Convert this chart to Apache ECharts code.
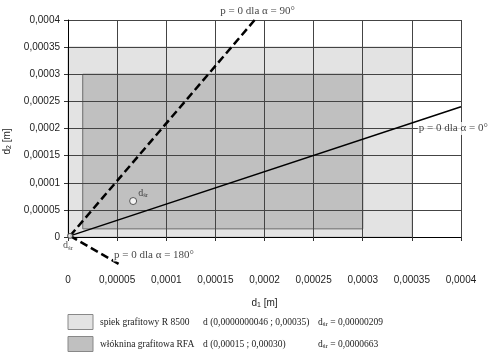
<!DOCTYPE html>
<html>
<head>
<meta charset="utf-8">
<script src="https://cdn.jsdelivr.net/npm/echarts@6/dist/echarts.min.js"></script>
<style>html,body{margin:0;padding:0;background:#fff}#c{width:489px;height:358px}</style>
</head>
<body>
<div id="c"></div>
<script>
// ---- data ----
const axisMin = 0, axisMax = 0.0004, axisStep = 0.00005;
// rectangles: [x0, y0, x1, y1]
const rectSpiek = [0.0000000046, 0.0000000046, 0.00035, 0.00035];
const rectWloknina = [0.000015, 0.000015, 0.0003, 0.0003];
// p = 0 lines
const line0 = [[0.00000209, 0.00000209], [0.0004, 0.00024]];
const line90 = [[0.00000209, 0.00000209], [0.00019, 0.0004]];
const line180 = [[0.00000209, 0.00000209], [0.000054, -0.000052]];
// mean points
const dsrPoints = [[0.00000209, 0.00000209], [0.0000663, 0.0000663]];
// annotation text anchors
const annotTexts = ['p = 0 dla α = 0°', 'p = 0 dla α = 90°', 'p = 0 dla α = 180°'];
const annotPos = [[0.000356, 0.0002], [0.000193, 0.000417], [0.0000458, -0.0000332]];
// legend
const legendNames = ['spiek grafitowy R 8500', 'włóknina grafitowa RFA'];
const legendRanges = ['d (0,0000000046 ; 0,00035)', 'd (0,00015 ; 0,00030)'];
const legendDsr = ['0,00000209', '0,0000663'];
const fillColors = ['#e3e3e3', '#c0c0c0'];
const strokeColors = ['#bdbdbd', '#6a6a6a'];

const fmt = v => Number(v.toFixed(6)).toString().replace('.', ',');
const serif = '"Liberation Serif", "Times New Roman", serif';
const sans = '"Liberation Sans", Arial, sans-serif';

const chart = echarts.init(document.getElementById('c'));

const legendGraphics = [];
legendNames.forEach((n, i) => {
  const yc = 322 + i * 22;
  legendGraphics.push({type: 'rect', shape: {x: 68, y: yc - 7.5, width: 25, height: 15},
    style: {fill: fillColors[i], stroke: '#888', lineWidth: 1}});
  legendGraphics.push({type: 'text', x: 100, y: yc, style: {text: n, font: '9.5px ' + serif, fill: '#222', verticalAlign: 'middle'}});
  legendGraphics.push({type: 'text', x: 203, y: yc, style: {text: legendRanges[i], font: '9.5px ' + serif, fill: '#222', verticalAlign: 'middle'}});
  legendGraphics.push({type: 'text', x: 318, y: yc, style: {
    text: '{a|d}{b|śr}{a| = ' + legendDsr[i] + '}', verticalAlign: 'middle',
    rich: {a: {font: '9.5px ' + serif, fill: '#222'}, b: {font: '7px ' + serif, fill: '#222', padding: [5, 0, 0, 0]}}}});
});

const option = {
  animation: false,
  backgroundColor: '#fff',
  grid: {left: 68, right: 28, top: 20, bottom: 121, containLabel: false, outerBoundsMode: 'none'},
  xAxis: {
    type: 'value', min: axisMin, max: axisMax, interval: axisStep, z: 1,
    axisLine: {lineStyle: {color: '#000', width: 1}},
    axisTick: {show: true, length: 4, lineStyle: {color: '#333'}},
    axisLabel: {formatter: fmt, margin: 38, fontSize: 10, fontFamily: sans, color: '#222'},
    splitLine: {show: true, lineStyle: {color: '#444', width: 1}},
    name: '{a|d}{b|1}{a| [m]}', nameLocation: 'middle', nameGap: 60,
    nameTextStyle: {rich: {a: {fontSize: 10, fontFamily: sans, color: '#222'}, b: {fontSize: 7, fontFamily: sans, color: '#222', padding: [5, 0, 0, 0]}}}
  },
  yAxis: {
    type: 'value', min: axisMin, max: axisMax, interval: axisStep, z: 1,
    axisLine: {show: true, lineStyle: {color: '#000', width: 1}},
    axisTick: {show: true, length: 4, lineStyle: {color: '#333'}},
    axisLabel: {formatter: fmt, margin: 8, fontSize: 10, fontFamily: sans, color: '#222'},
    splitLine: {show: true, lineStyle: {color: '#444', width: 1}},
    name: '{a|d}{b|2}{a| [m]}', nameLocation: 'middle', nameGap: 52,
    nameTextStyle: {padding: [0, 0, 0, -26], rich: {a: {fontSize: 10, fontFamily: sans, color: '#222'}, b: {fontSize: 7, fontFamily: sans, color: '#222', padding: [5, 0, 0, 0]}}}
  },
  graphic: legendGraphics,
  series: [
    {
      type: 'custom', z: 0, silent: true,
      data: [rectSpiek, rectWloknina],
      encode: {x: [0, 2], y: [1, 3]},
      renderItem: (params, api) => {
        const p0 = api.coord([api.value(0), api.value(1)]);
        const p1 = api.coord([api.value(2), api.value(3)]);
        const i = params.dataIndex;
        return {type: 'rect', shape: {x: p0[0], y: p1[1], width: p1[0] - p0[0], height: p0[1] - p1[1]},
          style: {fill: fillColors[i], stroke: strokeColors[i], lineWidth: 1}};
      }
    },
    {type: 'line', z: 3, data: line0, showSymbol: false, clip: false, lineStyle: {color: '#000', width: 1.5}},
    {type: 'line', z: 3, data: line90, showSymbol: false, clip: false, lineStyle: {color: '#000', width: 2.5, type: [8, 4]}},
    {type: 'line', z: 3, data: line180, showSymbol: false, clip: false, lineStyle: {color: '#000', width: 2.5, type: [8, 4]}},
    {
      type: 'scatter', z: 5, clip: false,
      symbol: 'circle',
      itemStyle: {color: '#fff', borderColor: '#333', borderWidth: 1},
      data: [
        {value: dsrPoints[0], symbolSize: 5, label: {position: [1, 13], align: 'center'}},
        {value: dsrPoints[1], symbolSize: 7, label: {position: [9, -4], align: 'left'}}
      ],
      label: {
        show: true, verticalAlign: 'middle', formatter: '{a|d}{b|śr}',
        rich: {a: {fontSize: 10, fontFamily: serif, color: '#222'}, b: {fontSize: 7, fontFamily: serif, color: '#222', padding: [5, 0, 0, 0]}}
      }
    },
    {
      type: 'scatter', z: 6, clip: false, symbolSize: 0, silent: true,
      data: annotPos.map((p, i) => ({value: p, name: annotTexts[i],
        label: {align: i === 1 ? 'center' : 'left'}})),
      label: {show: true, position: [0, 0], verticalAlign: 'middle', formatter: '{b}',
        fontSize: 11, fontFamily: serif, color: '#111', backgroundColor: '#fff', padding: [1, 1, 1, 1]}
    }
  ]
};
chart.setOption(option);
</script>
</body>
</html>
